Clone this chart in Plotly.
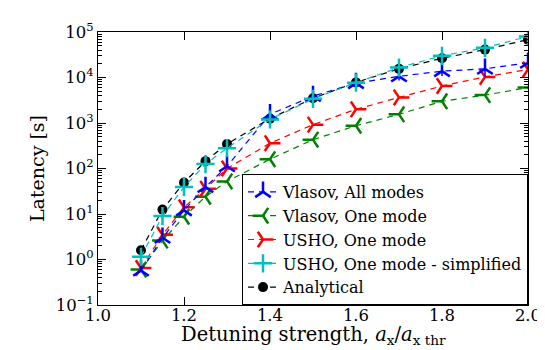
import plotly.graph_objects as go

detuning = [1.1, 1.15, 1.2, 1.25, 1.3, 1.4, 1.5, 1.6, 1.7, 1.8, 1.9, 2.0]
vlasov_all = [0.57, 3.0, 12, 39, 112, 1550, 3900, 7500, 10600, 13800, 15500, 21000]
vlasov_all_err_plus = [0, 0, 0, 0, 0, 1050, 2500, 1500, 3000, 4000, 9000, 10000]
vlasov_all_err_minus = [0, 0, 0, 0, 0, 450, 1100, 1000, 2000, 3000, 5000, 6000]
vlasov_one = [0.6, 2.6, 8.7, 24, 52, 160, 430, 870, 1550, 3000, 4100, 6000]
usho_one = [0.65, 3.5, 14, 36, 100, 360, 920, 2000, 3650, 6500, 10300, 15000]
usho_simpl = [1.15, 9.0, 39, 125, 280, 1200, 3400, 7700, 16500, 30000, 45000, 80000]
analytical = [1.6, 12.5, 49, 145, 345, 1250, 3500, 7800, 15500, 26500, 41000, 68000]

names = ["Vlasov, All modes", "Vlasov, One mode", "USHO, One mode",
         "USHO, One mode - simplified", "Analytical"]
x_title = "Detuning strength, <i>a</i><sub>x</sub>/<i>a</i><sub>x thr</sub>"
y_title = "Latency [s]"

FONT = "DejaVu Serif, serif"
fig = go.Figure()

def add(y, name, color, symbol, size, rank, err=None, filled=False):
    marker = dict(symbol=symbol, size=size, color=color,
                  line=dict(color=color, width=2.5))
    if filled:
        marker = dict(symbol=symbol, size=size, color=color, line=dict(width=0))
    tr = go.Scatter(x=detuning, y=y, name=name, mode="lines+markers",
                    line=dict(color=color, width=1.2, dash="6px,5px"),
                    marker=marker, legendrank=rank)
    if err is not None:
        tr.error_y = dict(type="data", symmetric=False, array=err[0],
                          arrayminus=err[1], color=color, thickness=1.5, width=0)
    fig.add_trace(tr)

add(analytical, names[4], "black", "circle", 10, 5, filled=True)
add(vlasov_one, names[1], "#008000", "y-left", 13, 2)
add(usho_one, names[2], "#ff0000", "y-right", 13, 3)
add(vlasov_all, names[0], "#0000ff", "y-up", 13, 1,
    err=(vlasov_all_err_plus, vlasov_all_err_minus))
add(usho_simpl, names[3], "#00bfbf", "cross-thin", 13, 4)

minor_vals = [m * 10 ** k for k in range(-1, 5) for m in range(2, 10)]
ytick_vals = [10 ** k for k in range(-1, 6)]
ytick_text = ["10<sup>%s</sup>" % (str(k).replace("-", "−")) for k in range(-1, 6)]

fig.add_annotation(text=x_title, xref="paper", yref="paper", x=0.5, y=-0.11,
                   xanchor="center", yanchor="middle", showarrow=False,
                   font=dict(family=FONT, size=19.5, color="black"))

fig.update_layout(
    width=545, height=350,
    margin=dict(l=90, r=12, t=22, b=53),
    paper_bgcolor="white", plot_bgcolor="white",
    font=dict(family=FONT, size=16.5, color="black"),
    showlegend=True,
    legend=dict(x=1, y=0, xanchor="right", yanchor="bottom",
                bgcolor="white", bordercolor="black", borderwidth=1,
                font=dict(family=FONT, size=16), tracegroupgap=0,
                itemwidth=30),
    xaxis=dict(range=[1.0, 2.0], tickvals=[1.0, 1.2, 1.4, 1.6, 1.8, 2.0],
               ticktext=["1.0", "1.2", "1.4", "1.6", "1.8", "2.0"],
               ticklabeloverflow="allow", ticklabelstandoff=-5,
               ticks="inside", ticklen=8, tickcolor="black", tickwidth=1,
               showline=True, linecolor="black", linewidth=1, mirror="allticks",
               showgrid=False, zeroline=False),
    yaxis=dict(type="log", range=[-1, 5], tickvals=ytick_vals, ticktext=ytick_text,
               ticks="inside", ticklen=8, tickcolor="black", tickwidth=1,
               minor=dict(tickvals=minor_vals, ticks="inside", ticklen=4,
                          tickcolor="black", tickwidth=1, showgrid=False),
               showline=True, linecolor="black", linewidth=1, mirror="allticks",
               showgrid=False, zeroline=False,
               title=dict(text=y_title, font=dict(family=FONT, size=19), standoff=6)),
)

fig.write_html("out.html")
